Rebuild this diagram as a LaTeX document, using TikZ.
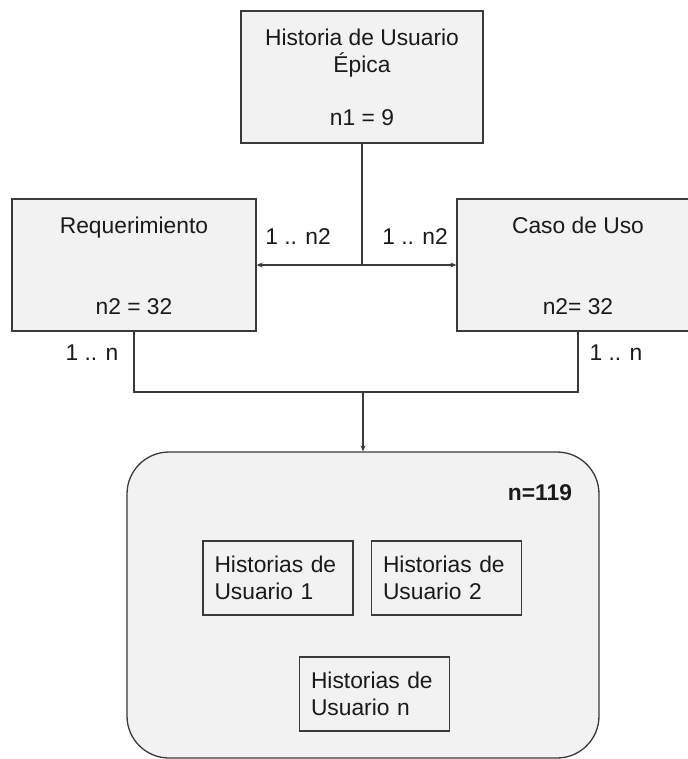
\documentclass[tikz,border=0pt]{standalone}
\usepackage{fontspec}
\setmainfont{Liberation Sans}
\usetikzlibrary{arrows.meta}
\definecolor{edge}{HTML}{3A3A3A}
\definecolor{boxfill}{HTML}{F2F2F2}
\definecolor{ink}{HTML}{1A1A1A}
\newcommand{\labelfont}{\fontsize{22.8bp}{27bp}\selectfont}
\tikzset{
  card/.style={draw=edge, fill=boxfill, line width=1.3bp, inner sep=0pt},
  txt/.style={text=ink, inner sep=0pt, anchor=base, font=\labelfont},
  story/.style={card, minimum width=150bp, minimum height=74bp, text width=127bp,
    align=left, text=ink, font=\labelfont},
  link/.style={draw=edge, line width=1.3bp},
  tip/.style={-{Stealth[length=6bp,width=5bp]}},
}
\begin{document}
\begin{tikzpicture}[x=1bp,y=-1bp]
\clip (0,0) rectangle (688,759);
\fill[white] (0,0) rectangle (688,759);

% epic user story
\node[card, minimum width=242bp, minimum height=132bp] (epica) at (362,77) {};
\node[txt] (epicaA) at (362,45.5) {Historia de Usuario};
\node[txt] (epicaB) at (362,72.5) {Épica};
\node[txt] (epicaN) at (362,125) {n1 = 9};

% requirement
\node[card, minimum width=244bp, minimum height=132bp] (req) at (134,265) {};
\node[txt] (reqA) at (134,233) {Requerimiento};
\node[txt] (reqN) at (134,314) {n2 = 32};

% use case (runs past the right edge)
\node[card, minimum width=242bp, minimum height=132bp] (cu) at (578,265) {};
\node[txt] (cuA) at (578,233) {Caso de Uso};
\node[txt] (cuN) at (578,314) {n2= 32};

% group of user stories
\node[card, rounded corners=42bp, minimum width=472bp, minimum height=306bp] (grupo) at (363,605) {};
\node[txt, font=\labelfont\bfseries] (grupoN) at (540,500) {n=119};
\node[story] (hu1) at (278,578) {Historias de\\Usuario 1};
\node[story] (hu2) at (446.5,578) {Historias de\\Usuario 2};
\node[story] (hun) at (374.5,694) {Historias de\\Usuario n};

% epic to requirement / use case
\coordinate (split) at (362,265);
\draw[link] (epica.south) -- (split);
\draw[link,tip] (split) -- (req.east);
\draw[link,tip] (split) -- (cu.west);
\node[txt] (mulA) at (298,244) {1 .. n2};
\node[txt] (mulB) at (415,244) {1 .. n2};

% requirement / use case to user stories
\coordinate (merge) at (363,392);
\draw[link] (req.south) |- (merge) -| (cu.south);
\draw[link,tip] (merge) -- (grupo.north);
\node[txt] (mulC) at (92,360) {1 .. n};
\node[txt] (mulD) at (616,360) {1 .. n};
\end{tikzpicture}
\end{document}
